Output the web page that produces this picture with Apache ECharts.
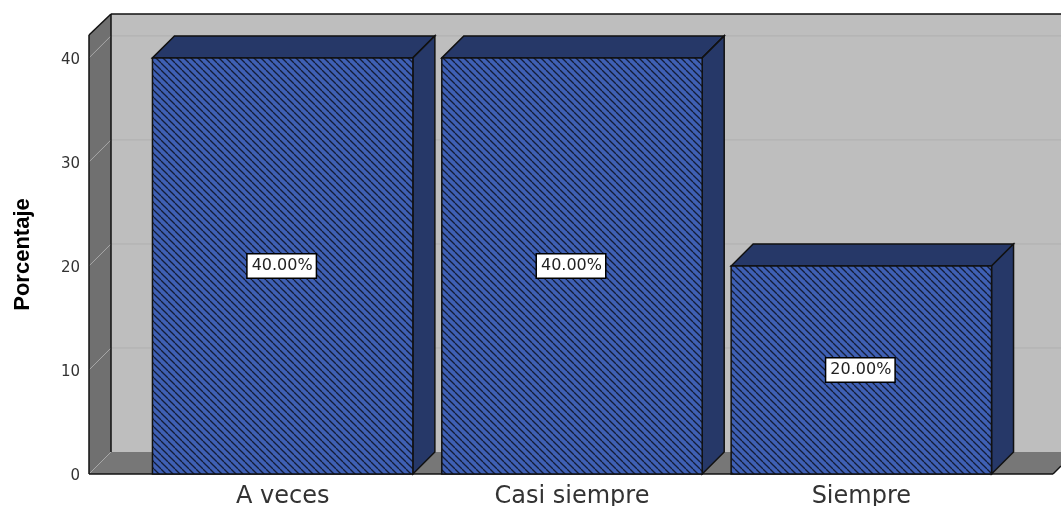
<!DOCTYPE html>
<html>
<head>
<meta charset="utf-8">
<style>html,body{margin:0;padding:0;background:#fff}#c{width:1061px;height:506px}</style>
<script src="https://cdn.jsdelivr.net/npm/echarts@6/dist/echarts.min.js"></script>
</head>
<body>
<div id="c"></div>
<script>
// Percentage of responses per answer category
const categories = ['A veces', 'Casi siempre', 'Siempre'];
const percentages = [40, 40, 20];
const valueTicks = [0, 10, 20, 30, 40];
const axisTitle = 'Porcentaje';

const DEPTH_X = 22;
const DEPTH_Y = 22;
const INK = '#111111';
const EDGE = 1.5;

// Diagonal hatch tile for the bar faces
function hatchTile() {
  const size = 7;
  const cv = document.createElement('canvas');
  cv.width = cv.height = size;
  const g = cv.getContext('2d');
  g.fillStyle = '#3f60b4';
  g.fillRect(0, 0, size, size);
  g.strokeStyle = '#141d38';
  g.lineWidth = 1.3;
  for (let k = -size; k <= size; k += size) {
    g.beginPath();
    g.moveTo(k, 0);
    g.lineTo(k + size, size);
    g.stroke();
  }
  return cv;
}
const hatch = { image: hatchTile(), repeat: 'repeat' };

function poly(points, fill, stroke, lineWidth) {
  return {
    type: 'polygon',
    shape: { points },
    style: { fill, stroke: stroke || 'none', lineWidth: lineWidth || 1 }
  };
}
function seg(a, b, stroke, lineWidth) {
  return {
    type: 'line',
    shape: { x1: a[0], y1: a[1], x2: b[0], y2: b[1] },
    style: { stroke, lineWidth: lineWidth || 1 }
  };
}

// Back wall, side wall and floor behind the bars
function renderRoom(params, api) {
  const wallLeft = 89;
  const wallBack = wallLeft + DEPTH_X;
  const floorRight = 1053;
  const yBase = api.coord([0, 0])[1];
  const yTop = params.coordSys.y;
  const yRoof = yTop - DEPTH_Y + 1;
  const children = [
    poly([[wallBack, yRoof], [1061, yRoof], [1061, yBase - DEPTH_Y], [wallBack, yBase - DEPTH_Y]], '#bebebe'),
    poly([[wallLeft, yTop], [wallBack, yRoof], [wallBack, yBase - DEPTH_Y], [wallLeft, yBase]], '#707070'),
    poly([[wallLeft, yBase], [wallBack, yBase - DEPTH_Y], [1061, yBase - DEPTH_Y], [1061, yBase - 8], [floorRight, yBase]], '#777777')
  ];
  valueTicks.forEach(function (v) {
    const y = api.coord([0, v])[1];
    children.push(seg([wallLeft, y], [wallBack, y - DEPTH_Y], '#a8a8a8'));
    if (v > 0) children.push(seg([wallBack, y - DEPTH_Y], [1061, y - DEPTH_Y], '#b0b0b0'));
  });
  children.push(seg([wallLeft, yTop], [wallLeft, yBase], INK, EDGE));
  children.push(seg([wallLeft, yTop], [wallBack, yRoof], INK, EDGE));
  children.push(seg([wallBack, yRoof], [1061, yRoof], INK, EDGE));
  children.push(seg([wallBack, yRoof], [wallBack, yBase - DEPTH_Y], INK, EDGE));
  children.push(seg([wallLeft, yBase], [floorRight, yBase], INK, EDGE));
  children.push(seg([floorRight, yBase], [1061, yBase - 8], INK, EDGE));
  return { type: 'group', children };
}

// Extruded bar: front face, top and right side
function renderBar(params, api) {
  const top = api.coord([api.value(0), api.value(1)]);
  const base = api.coord([api.value(0), 0]);
  const halfW = api.size([1, 0])[0] * 0.45;
  const l = top[0] - halfW, r = top[0] + halfW;
  return {
    type: 'group',
    children: [
      poly([[l, top[1]], [l + DEPTH_X, top[1] - DEPTH_Y], [r + DEPTH_X, top[1] - DEPTH_Y], [r, top[1]]], '#263868', INK, EDGE),
      poly([[r, top[1]], [r + DEPTH_X, top[1] - DEPTH_Y], [r + DEPTH_X, base[1] - DEPTH_Y], [r, base[1]]], '#263868', INK, EDGE),
      {
        type: 'rect',
        shape: { x: l, y: top[1], width: r - l, height: base[1] - top[1] },
        style: { fill: hatch, stroke: INK, lineWidth: EDGE }
      }
    ]
  };
}

const chart = echarts.init(document.getElementById('c'), null, { renderer: 'canvas' });
chart.setOption({
  animation: false,
  backgroundColor: '#ffffff',
  grid: { left: 138, width: 868, top: 35, height: 439, outerBoundsMode: 'none' },
  xAxis: {
    type: 'category',
    data: categories,
    axisLine: { show: false },
    axisTick: { show: false },
    axisLabel: {
      color: '#333', fontFamily: 'DejaVu Sans', fontSize: 24, margin: 11
    }
  },
  yAxis: {
    type: 'value',
    min: 0,
    max: 42.2,
    interval: 10,
    offset: 49,
    name: axisTitle,
    nameLocation: 'middle',
    nameGap: 55,
    nameRotate: 90,
    nameTextStyle: { color: '#000', fontFamily: 'Liberation Sans', fontWeight: 'bold', fontSize: 22 },
    axisLine: { show: false },
    axisTick: { show: false },
    splitLine: { show: false },
    axisLabel: {
      color: '#333', fontFamily: 'DejaVu Sans', fontSize: 15, margin: 9,
      verticalAlign: 'top', lineHeight: 4, showMaxLabel: false
    }
  },
  series: [
    {
      type: 'custom',
      clip: false,
      z: 1,
      silent: true,
      renderItem: renderRoom,
      data: [[0, 0]],
      encode: { x: 0, y: 1 }
    },
    {
      type: 'custom',
      clip: false,
      z: 2,
      renderItem: renderBar,
      data: percentages.map(function (v, i) { return [i, v]; }),
      encode: { x: 0, y: 1 }
    },
    {
      // Value tags centred on each bar's front face
      type: 'scatter',
      z: 3,
      symbolSize: 0,
      itemStyle: { opacity: 1 },
      data: percentages.map(function (v, i) { return [i, v / 2]; }),
      label: {
        show: true,
        position: 'inside',
        offset: [-1, 0],
        formatter: function (p) { return percentages[p.dataIndex].toFixed(2) + '%'; },
        backgroundColor: '#fff',
        borderColor: '#000',
        borderWidth: 1.5,
        opacity: 1,
        padding: [4, 3, 3, 4],
        color: '#222',
        fontFamily: 'DejaVu Sans',
        fontSize: 16
      }
    }
  ]
});
</script>
</body>
</html>
